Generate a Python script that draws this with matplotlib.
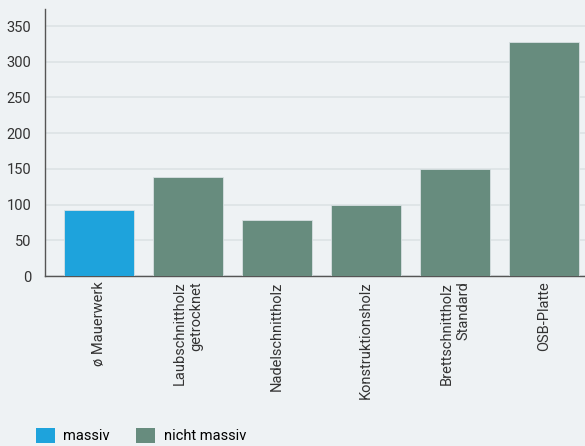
import matplotlib
matplotlib.use('Agg')
from matplotlib import pyplot as plt
from matplotlib.patches import Patch

categories = ['ø Mauerwerk', 'Laubschnittholz\ngetrocknet', 'Nadelschnittholz',
              'Konstruktionsholz', 'Brettschnittholz\nStandard', 'OSB-Platte']
values = [93, 139, 78, 100, 150, 327]
groups = ['massiv', 'nicht massiv', 'nicht massiv', 'nicht massiv', 'nicht massiv', 'nicht massiv']
legend_labels = ['massiv', 'nicht massiv']

colors = {'massiv': '#1ea3dc', 'nicht massiv': '#678c7e'}
bg = '#eef2f4'

plt.rcParams['font.family'] = ['Roboto', 'DejaVu Sans']

fig = plt.figure(figsize=(5.85, 4.46), dpi=100)
fig.patch.set_facecolor(bg)
ax = fig.add_axes([0.077, 0.381, 0.923, 0.599])
ax.set_facecolor(bg)

x = range(len(categories))
ax.bar(x, values, width=0.79, color=[colors[g] for g in groups],
       edgecolor='#d8e0e3', linewidth=0.6, zorder=3)

ax.set_xlim(-0.607, 5.46)
ax.set_ylim(0, 374)
ax.set_yticks(range(0, 351, 50))
ax.yaxis.grid(True, color='#dde3e5', linewidth=1.2, zorder=0)
ax.set_axisbelow(True)

ax.set_xticks(list(x))
ax.set_xticklabels(categories, rotation=90, ha='center', va='top',
                   multialignment='right', fontsize=10, color='#222222')
ax.tick_params(axis='both', length=0, labelsize=10.5, colors='#333333')
ax.tick_params(axis='x', pad=4)
ax.tick_params(axis='y', pad=10)

for side in ['top', 'right']:
    ax.spines[side].set_visible(False)
for side in ['left', 'bottom']:
    ax.spines[side].set_color('#555555')
    ax.spines[side].set_linewidth(1.0)

handles = [Patch(facecolor=colors[l], edgecolor='none', label=l) for l in legend_labels]
fig.legend(handles=handles, loc='lower left', bbox_to_anchor=(0.061, 0.006), ncol=2,
           frameon=False, fontsize=10.5, handlelength=1.3, handleheight=1.2,
           borderpad=0, borderaxespad=0, columnspacing=1.8, handletextpad=0.6)

fig.savefig('out.png', dpi=100, facecolor=bg)
